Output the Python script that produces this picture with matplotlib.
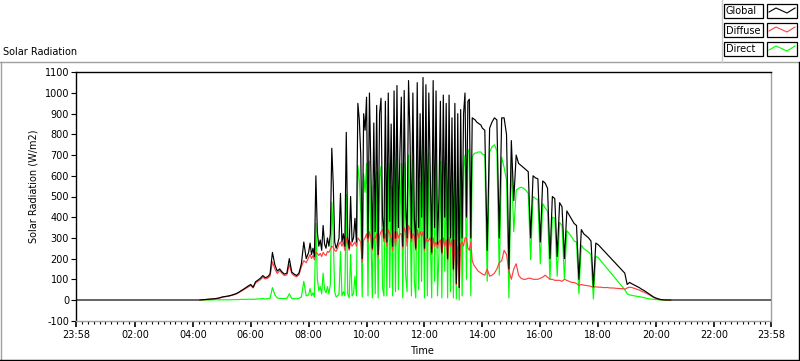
import numpy as np
import matplotlib
matplotlib.use("Agg")
import matplotlib.pyplot as plt
from matplotlib.lines import Line2D
from matplotlib.patches import Rectangle

# ---- data (W/m2). Each block covers part of one hour; sample step given in minutes ----
G04 = [0, 1, 2, 3, 4, 5, 6, 8, 10]
D04 = [0, 1, 2, 3, 4, 5, 6, 7, 9]
X04 = [0, 0, 0, 0, 0, 1, 1, 1, 1]

G05 = [14, 16, 18, 20, 23, 27, 31, 37, 45, 52, 60, 68]
D05 = [13, 15, 17, 19, 22, 25, 29, 35, 42, 49, 56, 63]
X05 = [1, 1, 1, 1, 1, 2, 2, 2, 3, 3, 3, 4]

G06 = [75, 62, 88, 96, 105, 118, 108, 112, 125, 230, 170, 140]
D06 = [70, 58, 83, 90, 98, 110, 102, 105, 115, 185, 150, 128]
X06 = [4, 3, 4, 5, 6, 7, 5, 6, 8, 60, 25, 10]

G07 = [150, 135, 125, 130, 200, 135, 125, 118, 130, 175, 280, 200]
D07 = [142, 128, 118, 122, 170, 128, 118, 112, 122, 160, 190, 180]
X07 = [8, 7, 7, 8, 30, 7, 6, 6, 8, 15, 90, 20]

G08 = [230, 275, 220, 250, 210, 600, 330, 260, 290, 240, 360, 270, 250, 300, 260, 320, 733, 560, 280, 250]
D08 = [205, 220, 200, 215, 195, 230, 225, 215, 225, 210, 230, 220, 215, 235, 230, 245, 260, 255, 240, 235]
X08 = [25, 55, 20, 35, 15, 370, 105, 45, 65, 30, 130, 50, 35, 65, 30, 75, 473, 305, 40, 15]

G09 = [270, 300, 515, 280, 320, 260, 810, 300, 250, 500, 280, 300, 395, 280, 950, 870, 700, 200, 900, 820]
D09 = [250, 270, 280, 260, 280, 240, 300, 270, 240, 280, 260, 270, 280, 260, 300, 290, 280, 185, 290, 300]
X09 = [20, 30, 235, 20, 40, 20, 510, 30, 10, 220, 20, 30, 115, 20, 650, 580, 420, 15, 610, 520]

G10 = [980, 300, 1000, 620, 250, 855, 330, 940, 220, 900, 975, 400, 300, 960, 280, 1000, 380, 850, 260, 1010]
D10 = [320, 280, 330, 300, 240, 300, 300, 320, 210, 310, 330, 340, 280, 320, 260, 340, 320, 300, 240, 330]
X10 = [660, 20, 670, 320, 10, 555, 30, 620, 10, 590, 645, 60, 20, 640, 20, 660, 60, 550, 20, 680]

G11 = [300, 1036, 350, 700, 980, 260, 1012, 450, 300, 1060, 800, 300, 1000, 400, 250, 1050, 350, 900, 400, 1075]
D11 = [260, 330, 300, 320, 320, 250, 350, 330, 260, 360, 340, 280, 320, 310, 240, 340, 300, 330, 310, 330]
X11 = [40, 706, 50, 380, 660, 10, 662, 120, 40, 700, 460, 20, 680, 90, 10, 710, 50, 570, 90, 745]

G12 = [250, 1040, 300, 1000, 600, 230, 1060, 350, 1010, 270, 500, 960, 230, 990, 400, 950, 200, 990, 300, 880]
D12 = [240, 300, 280, 290, 300, 220, 300, 260, 280, 250, 280, 290, 220, 300, 260, 290, 190, 300, 260, 290]
X12 = [10, 740, 20, 710, 300, 10, 760, 90, 730, 20, 220, 670, 10, 690, 140, 660, 10, 690, 40, 590]

G13 = [150, 950, 80, 900, 60, 920, 300, 900, 1000, 400, 960, 970, 300, 880, 875, 870, 860, 855, 850, 845]
D13 = [140, 290, 75, 260, 60, 270, 280, 260, 300, 300, 250, 240, 280, 190, 170, 160, 150, 140, 135, 130]
X13 = [10, 660, 5, 640, 0, 650, 20, 640, 700, 100, 710, 730, 20, 690, 705, 710, 710, 715, 715, 715]

G14 = [830, 820, 240, 830, 860, 880, 870, 300, 880, 880, 800, 150]
D14 = [125, 120, 150, 115, 120, 130, 150, 180, 190, 240, 220, 140]
X14 = [705, 700, 90, 715, 740, 750, 720, 120, 690, 640, 580, 10]

G15 = [770, 480, 700, 660, 650, 640, 630, 620, 300, 600, 590, 585]
D15 = [100, 150, 175, 120, 105, 100, 100, 105, 105, 100, 100, 100]
X15 = [665, 330, 530, 540, 545, 540, 530, 515, 195, 500, 490, 485]

G16 = [280, 575, 565, 540, 200, 500, 490, 210, 470, 450, 200, 430]
D16 = [105, 110, 120, 110, 100, 100, 95, 95, 95, 90, 100, 95]
X16 = [175, 465, 445, 430, 100, 400, 395, 115, 375, 360, 100, 335]

G17 = [410, 390, 370, 360, 100, 340, 320, 310, 300, 285, 65, 275]
D17 = [90, 85, 85, 80, 70, 75, 72, 70, 68, 66, 60, 64]
X17 = [320, 305, 285, 280, 30, 265, 248, 240, 232, 219, 5, 211]

G18 = [267, 255, 242, 230, 217, 205, 192, 180, 167, 155, 142, 130]
D18 = [62, 62, 60, 60, 60, 58, 58, 57, 56, 55, 55, 52]
X18 = [205, 190, 176, 162, 148, 134, 120, 106, 92, 78, 64, 50]

G19 = [75, 85, 78, 72, 66, 60, 52, 46, 38, 30, 22, 14]
D19 = [58, 62, 60, 56, 52, 48, 42, 38, 32, 26, 19, 12]
X19 = [30, 25, 22, 20, 18, 16, 14, 11, 8, 6, 4, 3]

G20 = [9, 5, 2, 1, 0, 0, 0]
D20 = [8, 4, 2, 1, 0, 0, 0]
X20 = [2, 1, 0, 0, 0, 0, 0]

# block start (minutes after midnight) and sample step (minutes)
BLOCK_START = [255, 300, 360, 420, 480, 540, 600, 660, 720, 780, 840, 900, 960, 1020, 1080, 1140, 1200]
BLOCK_STEP = [5, 5, 5, 5, 3, 3, 3, 3, 3, 3, 5, 5, 5, 5, 5, 5, 5]
G_BLOCKS = [G04, G05, G06, G07, G08, G09, G10, G11, G12, G13, G14, G15, G16, G17, G18, G19, G20]
D_BLOCKS = [D04, D05, D06, D07, D08, D09, D10, D11, D12, D13, D14, D15, D16, D17, D18, D19, D20]
X_BLOCKS = [X04, X05, X06, X07, X08, X09, X10, X11, X12, X13, X14, X15, X16, X17, X18, X19, X20]

DAY_START_MIN = -2      # 23:58 previous day (Global logged as 0 at night)
DAY_END_MIN = 1438      # 23:58

X_TICK_MIN = [-2, 120, 240, 360, 480, 600, 720, 840, 960, 1080, 1200, 1320, 1438]
X_TICK_LABELS = ["23:58", "02:00", "04:00", "06:00", "08:00", "10:00", "12:00",
                 "14:00", "16:00", "18:00", "20:00", "22:00", "23:58"]
Y_TICKS = list(range(-100, 1101, 100))

SERIES_NAMES = ["Global", "Diffuse", "Direct"]
SERIES_COLORS = ["#000000", "#ff4040", "#00ff00"]

# ---- assemble time axis ----
t_active = np.concatenate([s + st * np.arange(len(b)) for s, st, b in zip(BLOCK_START, BLOCK_STEP, G_BLOCKS)])
glob = np.concatenate(G_BLOCKS)
diff = np.concatenate(D_BLOCKS)
direct = np.concatenate(X_BLOCKS)
t_glob = np.concatenate([[DAY_START_MIN], t_active, [DAY_END_MIN]])
g_full = np.concatenate([[0], glob, [0]])

# ---- figure ----
W, H = 800, 361
plt.rcParams['font.family'] = ['DejaVu Sans']
FS = 7
fig = plt.figure(figsize=(W / 100, H / 100), dpi=100)
fig.patch.set_facecolor('white')

def fx(x):
    return x / W

def fy(y):
    return 1 - y / H

L, R, T, B = 76, 771, 72.3, 320.7
ax = fig.add_axes([fx(L), fy(B), fx(R) - fx(L), fy(T) - fy(B)])

lw = 0.85
ax.plot(t_active, direct, color=SERIES_COLORS[2], lw=lw, zorder=3)
ax.plot(t_active, diff, color=SERIES_COLORS[1], lw=lw, zorder=4)
ax.plot(t_glob, g_full, color=SERIES_COLORS[0], lw=lw, zorder=5)

ax.set_xlim(DAY_START_MIN, DAY_END_MIN)
ax.set_ylim(-100, 1100)

ax.set_xticks(X_TICK_MIN)
ax.set_xticklabels(X_TICK_LABELS, fontsize=FS)
minor = []
for a, b in zip(X_TICK_MIN[:-1], X_TICK_MIN[1:]):
    minor.extend(list(np.linspace(a, b, 11)[1:-1]))
ax.set_xticks(minor, minor=True)
ax.set_yticks(Y_TICKS)
ax.set_yticklabels([str(v) for v in Y_TICKS], fontsize=FS)

ax.tick_params(axis='x', which='major', direction='out', length=4.5, width=1.2, pad=2.5, colors='black')
ax.tick_params(axis='x', which='minor', direction='out', length=2.5, width=0.8, colors='black')
ax.tick_params(axis='y', which='major', direction='out', length=3.5, width=0.8, pad=1.5, colors='black')

for side in ['top', 'left']:
    ax.spines[side].set_color('black')
    ax.spines[side].set_linewidth(1.0)
for side in ['right', 'bottom']:
    ax.spines[side].set_color('#a0a0a0')
    ax.spines[side].set_linewidth(1.0)

# axis labels / title as figure text
fig.text(fx(3), fy(52), "Solar Radiation", fontsize=FS, ha='left', va='center')
fig.text(fx(422), fy(351), "Time", fontsize=FS, ha='center', va='center')
fig.text(fx(33), fy(186), "Solar Radiation (W/m2)", fontsize=FS, ha='center', va='center', rotation=90)

# outer panel frame
def fline(x0, y0, x1, y1, color, lw=1.0):
    fig.add_artist(Line2D([fx(x0), fx(x1)], [fy(y0), fy(y1)], color=color, lw=lw,
                          transform=fig.transFigure))

fline(0, 61.5, 799, 61.5, '#a0a0a0')
fline(0.5, 61.5, 0.5, 359.5, '#a0a0a0')
fline(0, 359.5, 799.5, 359.5, 'black')
fline(798.5, 61.5, 798.5, 359.5, 'black')
fline(721.5, 0, 721.5, 61.5, '#c8c8c8')

# legend
rows_y = [4, 23, 42]
for name, color, y0 in zip(SERIES_NAMES, SERIES_COLORS, rows_y):
    h = 14
    fig.add_artist(Rectangle((fx(724), fy(y0 + h)), fx(763) - fx(724), fy(y0) - fy(y0 + h),
                             transform=fig.transFigure, facecolor='white', edgecolor='black', lw=0.9))
    fig.text(fx(726), fy(y0 + h / 2 + 0.5), name, fontsize=FS, ha='left', va='center')
    fig.add_artist(Rectangle((fx(767), fy(y0 + h)), fx(797) - fx(767), fy(y0) - fy(y0 + h),
                             transform=fig.transFigure, facecolor='white', edgecolor='black', lw=0.9))
    zx = [769, 776, 787, 795]
    zy = [y0 + 8, y0 + 4, y0 + 9, y0 + 4]
    fig.add_artist(Line2D([fx(v) for v in zx], [fy(v) for v in zy], color=color, lw=0.8,
                          transform=fig.transFigure))

fig.savefig("out.png", dpi=100, facecolor='white')
